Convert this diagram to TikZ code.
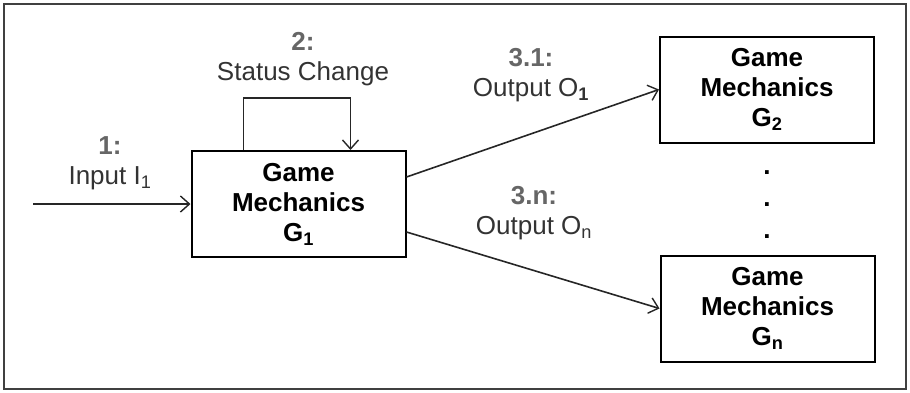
\documentclass[tikz,border=0pt]{standalone}
\usepackage{fontspec}
\setmainfont{Liberation Sans}
\usetikzlibrary{arrows.meta,calc}
\begin{document}
\begin{tikzpicture}[x=1pt,y=-1pt,
  font=\fontsize{26}{30}\selectfont,
  gm/.style={draw=black,line width=2pt,minimum width=214pt,minimum height=106pt,inner sep=0pt,align=center,font=\fontsize{26}{30}\selectfont\bfseries},
  arr/.style={draw=black!85,line width=1.6pt,-{Straight Barb[length=9pt,width=16pt,line width=1.4pt]}},
  lbl/.style={align=center,inner sep=0pt,text=black!80},
  dot/.style={inner sep=0pt,font=\fontsize{26}{30}\selectfont\bfseries}]
\useasboundingbox (0,0) rectangle (910,392);
\draw[line width=1.8pt,draw=black!75] (4,4) rectangle (906,389);
\node[gm] (G1) at (298.5,204) {Game\\Mechanics\\G\textsubscript{1}};
\node[gm] (G2) at (767,89.5) {Game\\Mechanics\\G\textsubscript{2}};
\node[gm] (Gn) at (767.5,308.5) {Game\\Mechanics\\G\textsubscript{n}};
\coordinate (in) at (33,204);
\draw[arr] (in) -- (in -| G1.west);
\draw[arr] ($(G1.north west)+(53,0)$) -- ++(0,-52) -| ($(G1.north west)+(160,0)$);
\draw[arr] ($(G1.north east)+(0,27)$) -- (G2.west);
\draw[arr] ($(G1.south east)+(0,-26)$) -- (Gn.west);
\node[lbl] (l1) at (110,163) {{\color{black!60}\bfseries 1:}\\Input I\textsubscript{1}};
\node[lbl] (l2) at (303,59) {{\color{black!60}\bfseries 2:}\\Status Change};
\node[lbl] (l31) at (531,75) {{\color{black!60}\bfseries 3.1:}\\Output O\textsubscript{\bfseries 1}};
\node[lbl] (l3n) at (534,213) {{\color{black!60}\bfseries 3.n:}\\Output O\textsubscript{n}};
\node[dot] (d1) at (767,173) {.};
\node[dot] (d2) at (767,205) {.};
\node[dot] (d3) at (767,237) {.};
\end{tikzpicture}
\end{document}
